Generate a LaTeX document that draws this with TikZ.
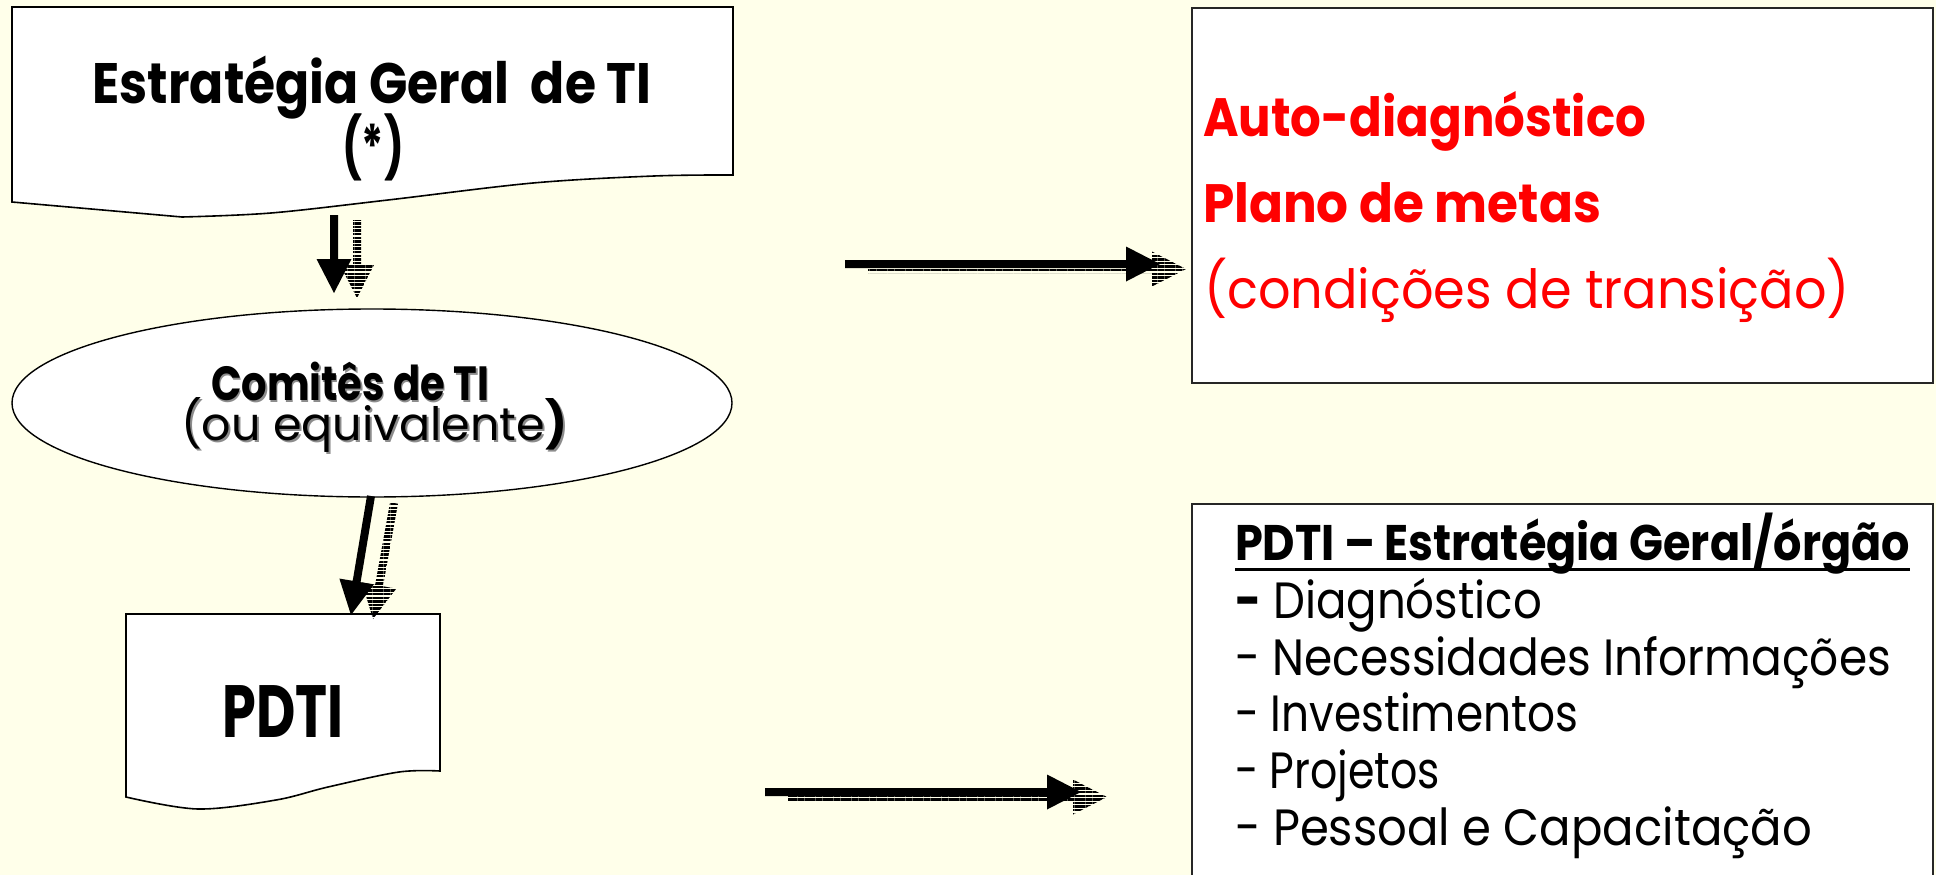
\documentclass[tikz,border=0pt]{standalone}
\usepackage{fontspec}
\newfontfamily\gothic{Poppins}
\usepackage{graphicx}
\usetikzlibrary{calc,patterns.meta,shapes.geometric}
\definecolor{bgc}{RGB}{255,255,234}
\definecolor{redtxt}{RGB}{255,0,0}
\newsavebox\txtbox
\newdimen\txtw
\newcommand\fitw[2]{\sbox\txtbox{#2}\setlength\txtw{\wd\txtbox}\pgfmathsetmacro\fitsc{#1/\txtw}\scalebox{\fitsc}[1]{\usebox\txtbox}}
\newcommand\shadowed[1]{\makebox[0pt][l]{\hspace{2pt}\raisebox{-2pt}{\textcolor{black!45}{#1}}}#1}
\newcommand\blockarr[3]{%
  \coordinate (hbase) at ($(#3)!34pt!(#2)$);
  \path[#1] ($(#2)!4pt!90:(#3)$) -- ($(hbase)!4pt!90:(#3)$) -- ($(hbase)!17.5pt!90:(#3)$) -- (#3)
     -- ($(hbase)!17.5pt!-90:(#3)$) -- ($(hbase)!4pt!-90:(#3)$) -- ($(#2)!4pt!-90:(#3)$) -- cycle;}
\tikzset{
  docline/.style={draw=black, line width=1.6pt, fill=white},
  boxline/.style={draw=black!85, line width=2.2pt, fill=white, inner sep=0pt, anchor=north west},
  solidarr/.style={fill=black},
  shadowarr/.style={pattern={Lines[angle=0,distance=3.6pt,line width=2.4pt]}, pattern color=black},
  tx/.style={inner sep=0pt, outer sep=0pt, font=\gothic},
}
\begin{document}
\begin{tikzpicture}[x=1pt,y=-1pt]
\useasboundingbox (0,0) rectangle (1936,875);
\fill[bgc] (0,0) rectangle (1936,875);
\clip (0,0) rectangle (1936,875);

% top-left document shape
\coordinate (d1nw) at (12,7);
\draw[docline] (d1nw) -- (733,7) -- (733,175) -- plot[smooth, tension=0.55] coordinates {(733,175) (654,176) (533,183) (388,200) (271,213) (182,217)} -- (12,202) -- cycle;
\node[tx, anchor=base] (estr) at (372,103) {\fitw{559}{\bfseries\fontsize{57}{60}\selectfont Estratégia Geral\ \ de TI}};
\node[tx, anchor=base] (star) at (373,168) {\fitw{62}{\bfseries\fontsize{60}{60}\selectfont (*)}};

% ellipse
\node[draw=black, line width=1.4pt, fill=white, ellipse, minimum width=720pt, minimum height=188pt, inner sep=0pt] (comite) at (372,403) {};
\node[tx, anchor=base] (com) at (350,400) {\fitw{278}{\bfseries\fontsize{48}{50}\selectfont \shadowed{Comitês de TI}}};
\node[tx, anchor=base] (equi) at (374,440) {\fitw{386}{\fontsize{46}{50}\selectfont \shadowed{(ou equivalente{\bfseries )}}}};

% PDTI document shape
\draw[docline] (126,614) -- (440,614) -- (440,771) -- plot[smooth, tension=0.55] coordinates {(440,771) (399,772) (328,787) (276,800) (198,809) (126,797)} -- cycle;
\node[tx, anchor=base] (pdti) at (283,737) {\fitw{121}{\bfseries\fontsize{74}{76}\selectfont PDTI}};

% vertical arrows
\coordinate (a1s) at (334,215); \coordinate (a1t) at (334,293);
\coordinate (a1ss) at (357,220); \coordinate (a1st) at (357,298);
\blockarr{shadowarr}{a1ss}{a1st}
\blockarr{solidarr}{a1s}{a1t}
\coordinate (a2s) at (371,496); \coordinate (a2t) at (351,615);
\coordinate (a2ss) at (394,503); \coordinate (a2st) at (373,619);
\blockarr{shadowarr}{a2ss}{a2st}
\blockarr{solidarr}{a2s}{a2t}

% horizontal arrows
\coordinate (a3s) at (845,264); \coordinate (a3t) at (1160,264);
\coordinate (a3ss) at (868,269); \coordinate (a3st) at (1186,269);
\blockarr{shadowarr}{a3ss}{a3st}
\blockarr{solidarr}{a3s}{a3t}
\coordinate (a4s) at (765,792); \coordinate (a4t) at (1081,792);
\coordinate (a4ss) at (788,797); \coordinate (a4st) at (1107,797);
\blockarr{shadowarr}{a4ss}{a4st}
\blockarr{solidarr}{a4s}{a4t}

% right top box
\node[boxline, minimum width=741pt, minimum height=375pt] (box1) at (1191,7) {};
\node[tx, anchor=base west, text=redtxt] (auto) at (1203,136) {\fitw{443}{\bfseries\fontsize{54}{56}\selectfont Auto-diagnóstico}};
\node[tx, anchor=base west, text=redtxt] (plano) at (1203,222) {\fitw{398}{\bfseries\fontsize{54}{56}\selectfont Plano de metas}};
\node[tx, anchor=base west, text=redtxt] (cond) at (1204,308) {\fitw{646}{\fontsize{54}{56}\selectfont (condições de transição)}};

% right bottom box
\node[boxline, minimum width=741pt, minimum height=400pt] (box2) at (1191,503) {};
\node[tx, anchor=base west] (ptitle) at (1235,560) {\fitw{675}{\bfseries\fontsize{50}{52}\selectfont PDTI – Estratégia Geral/órgão}};
\draw[line width=3pt] ($(ptitle.base west)+(0,9)$) -- ($(ptitle.base east)+(0,9)$);
\node[tx, anchor=base west] (l1) at (1235,618) {\fitw{307}{\fontsize{51}{52}\selectfont {\bfseries -} Diagnóstico}};
\node[tx, anchor=base west] (l2) at (1235,675) {\fitw{656}{\fontsize{51}{52}\selectfont - Necessidades Informações}};
\node[tx, anchor=base west] (l3) at (1235,731) {\fitw{343}{\fontsize{51}{52}\selectfont - Investimentos}};
\node[tx, anchor=base west] (l4) at (1235,788) {\fitw{205}{\fontsize{51}{52}\selectfont - Projetos}};
\node[tx, anchor=base west] (l5) at (1235,845) {\fitw{577}{\fontsize{51}{52}\selectfont - Pessoal e Capacitação}};
\end{tikzpicture}
\end{document}
